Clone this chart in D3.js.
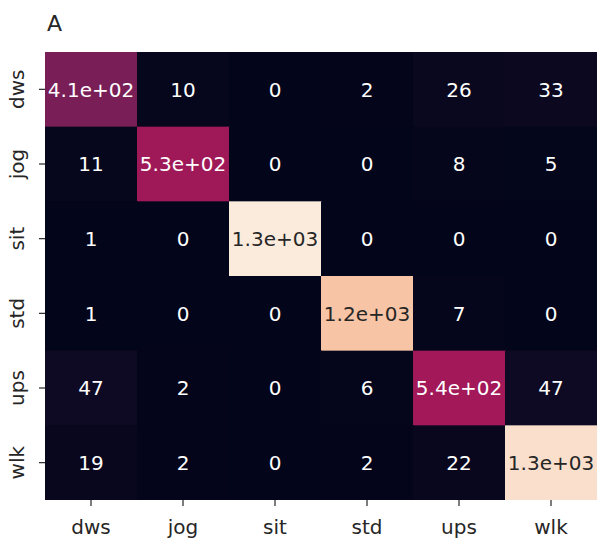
<!DOCTYPE html>
<html>
<head>
<meta charset="utf-8">
<script src="https://cdn.jsdelivr.net/npm/d3@7"></script>
<style>
  body { margin: 0; background: #fff; }
  text { font-family: "DejaVu Sans", sans-serif; }
</style>
</head>
<body>
<div id="matrica"></div>
<script>
// oznake klasa (redovi = stvarno, stupci = predviđeno)
const klase = ["dws", "jog", "sit", "std", "ups", "wlk"];

// broj uzoraka po redu
const redDws = [412, 10, 0, 2, 26, 33];
const redJog = [11, 531, 0, 0, 8, 5];
const redSit = [1, 0, 1345, 0, 0, 0];
const redStd = [1, 0, 0, 1208, 7, 0];
const redUps = [47, 2, 0, 6, 542, 47];
const redWlk = [19, 2, 0, 2, 22, 1302];

const naslov = "A";

// rocket paleta (seaborn)
const rocketBoje = ["#03051a", "#35193e", "#701f57", "#ad1759", "#e13342", "#f37651", "#f6b48f", "#faebdd"];

const crtajMatricu = () => {
  const redovi = [redDws, redJog, redSit, redStd, redUps, redWlk];

  const dimenzije = {
    sirina: 598,
    visina: 538,
    margine: { top: 52, right: 1, bottom: 38, left: 45 },
  };
  dimenzije.grSirina = dimenzije.sirina - dimenzije.margine.left - dimenzije.margine.right;
  dimenzije.grVisina = dimenzije.visina - dimenzije.margine.top - dimenzije.margine.bottom;

  const celije = [];
  redovi.forEach((red, i) => {
    red.forEach((v, j) => {
      celije.push({ stvarno: klase[i], predvideno: klase[j], vrijednost: v });
    });
  });

  const okvir = d3.select("#matrica")
    .append("svg")
    .attr("width", dimenzije.sirina)
    .attr("height", dimenzije.visina);

  const granice = okvir.append("g")
    .attr("transform", `translate(${dimenzije.margine.left}, ${dimenzije.margine.top})`);

  const xScale = d3.scaleBand()
    .domain(klase)
    .range([0, dimenzije.grSirina]);

  const yScale = d3.scaleBand()
    .domain(klase)
    .range([0, dimenzije.grVisina]);

  const maks = d3.max(celije, d => d.vrijednost);
  const boja = d3.scaleSequential(d3.piecewise(d3.interpolateRgb, rocketBoje))
    .domain([0, maks]);

  // celije - malo preklapanje da ne bude tankih linija
  granice.selectAll("rect")
    .data(celije)
    .enter()
    .append("rect")
    .attr("x", d => xScale(d.predvideno))
    .attr("y", d => yScale(d.stvarno))
    .attr("width", d => xScale.bandwidth() + (d.predvideno === "wlk" ? 0 : 1))
    .attr("height", d => yScale.bandwidth() + (d.stvarno === "wlk" ? 0 : 1))
    .attr("fill", d => boja(d.vrijednost));

  // format kao ".2g" u pythonu
  const format2g = (v) => {
    if (v < 100) return String(v);
    const [m, e] = v.toExponential(1).split("e");
    const znak = e[0];
    const eksp = e.slice(1).padStart(2, "0");
    return `${m}e${znak}${eksp}`;
  };

  const svjetlina = (c) => {
    const rgb = d3.rgb(c);
    const lin = [rgb.r, rgb.g, rgb.b].map(x => {
      x = x / 255;
      return x <= 0.03928 ? x / 12.92 : Math.pow((x + 0.055) / 1.055, 2.4);
    });
    return 0.2126 * lin[0] + 0.7152 * lin[1] + 0.0722 * lin[2];
  };

  granice.append("g")
    .attr("class", "oznake")
    .selectAll("text")
    .data(celije)
    .enter()
    .append("text")
    .attr("x", d => xScale(d.predvideno) + xScale.bandwidth() / 2)
    .attr("y", d => yScale(d.stvarno) + yScale.bandwidth() / 2)
    .attr("dy", "0.36em")
    .attr("text-anchor", "middle")
    .style("font-size", "20px")
    .attr("fill", d => svjetlina(boja(d.vrijednost)) > 0.408 ? "#262626" : "#ffffff")
    .text(d => format2g(d.vrijednost));

  // x os
  const xOs = granice.append("g")
    .attr("transform", `translate(0, ${dimenzije.grVisina})`)
    .call(d3.axisBottom(xScale).tickSize(6).tickPadding(14));
  xOs.select(".domain").remove();
  xOs.selectAll(".tick line").attr("stroke", "#262626").attr("stroke-width", 1.2);
  xOs.selectAll(".tick text")
    .attr("fill", "#262626")
    .style("font-size", "20px")
    .style("font-family", "DejaVu Sans");

  // y os
  const yOs = granice.append("g")
    .call(d3.axisLeft(yScale).tickSize(6).tickPadding(0));
  yOs.select(".domain").remove();
  yOs.selectAll(".tick line").attr("stroke", "#262626").attr("stroke-width", 1.2);
  yOs.selectAll(".tick text")
    .attr("x", null)
    .attr("dy", null)
    .attr("text-anchor", "middle")
    .attr("transform", "translate(-21, 0) rotate(-90)")
    .attr("fill", "#262626")
    .style("font-size", "20px")
    .style("font-family", "DejaVu Sans");

  okvir.append("text")
    .attr("x", dimenzije.margine.left + 2)
    .attr("y", 31)
    .style("font-size", "22px")
    .attr("fill", "#262626")
    .text(naslov);
};

crtajMatricu();
</script>
</body>
</html>
